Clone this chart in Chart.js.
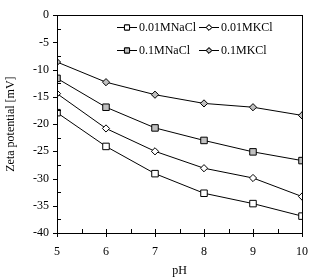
<!DOCTYPE html>
<html>
<head>
<meta charset="utf-8">
<script src="https://cdn.jsdelivr.net/npm/chart.js@4"></script>
<style>
  html, body { margin: 0; padding: 0; background: #fff; }
  #wrap { width: 320px; height: 278px; }
</style>
</head>
<body>
<div id="wrap"><canvas id="zetaChart" width="320" height="278"></canvas></div>
<script>
// pH values on the x axis
const phValues = [5, 6, 7, 8, 9, 10];

// Zeta potential [mV] per electrolyte
const nacl001 = [-17.9, -24.1, -29.1, -32.7, -34.6, -36.9];
const kcl001 = [-14.4, -20.8, -25.0, -28.1, -29.9, -33.3];
const nacl01 = [-11.6, -16.9, -20.7, -23.0, -25.1, -26.7];
const kcl01 = [-8.6, -12.3, -14.6, -16.2, -16.9, -18.4];

const seriesLabels = ["0.01MNaCl", "0.01MKCl", "0.1MNaCl", "0.1MKCl"];

const FONT = "'Liberation Serif', 'Times New Roman', serif";
const GRAY = "#c0c0c0";

const toPoints = (ys) => ys.map((y, i) => ({ x: phValues[i], y: y }));

const makeSet = (label, ys, shape, fill) => ({
    label: label,
    data: toPoints(ys),
    borderColor: "#000",
    borderWidth: 1,
    pointStyle: shape,
    pointRadius: shape === "rect" ? 4.6 : 3.6,
    pointBackgroundColor: fill,
    pointBorderColor: "#000",
    pointBorderWidth: 1,
    showLine: true,
    fill: false,
    tension: 0
});

// box border plus inside/outside tick marks like the original figure
const axisTicks = {
    id: "axisTicks",
    afterDraw(chart) {
        const c = chart.ctx, a = chart.chartArea;
        const xs = chart.scales.x, ys = chart.scales.y;
        c.save();
        c.strokeStyle = "#000";
        c.lineWidth = 1;
        c.strokeRect(Math.round(a.left) + 0.5, Math.round(a.top) + 0.5,
            Math.round(a.right - a.left), Math.round(a.bottom - a.top));
        c.beginPath();
        for (let v = 0; v >= -40; v -= 2.5) {
            const y = Math.round(ys.getPixelForValue(v)) + 0.5;
            const major = v % 5 === 0;
            c.moveTo(a.left + (major ? -4 : 0), y);
            c.lineTo(a.left + (major ? 0 : 4), y);
        }
        for (let v = 5; v <= 10; v += 0.5) {
            const x = Math.round(xs.getPixelForValue(v)) + 0.5;
            const major = v % 1 === 0;
            c.moveTo(x, a.bottom - 4);
            c.lineTo(x, a.bottom + (major ? 4 : 0));
        }
        c.stroke();
        c.restore();
    }
};

// two-column legend drawn inside the plot: line with marker, then label
const boxLegend = {
    id: "boxLegend",
    afterDraw(chart) {
        const c = chart.ctx;
        const cols = [117, 199];
        const rows = [26.5, 49.5];
        c.save();
        c.font = "12px " + FONT;
        c.textBaseline = "middle";
        c.fillStyle = "#000";
        chart.data.datasets.forEach((ds, i) => {
            const x0 = cols[i % 2], y = rows[Math.floor(i / 2)];
            c.strokeStyle = "#000";
            c.lineWidth = 1;
            c.beginPath();
            c.moveTo(x0, Math.round(y) + 0.5);
            c.lineTo(x0 + 20, Math.round(y) + 0.5);
            c.stroke();
            Chart.helpers.drawPoint(c, {
                pointStyle: ds.pointStyle,
                radius: ds.pointStyle === "rect" ? 3.6 : 2.8,
                rotation: 0,
                borderWidth: 1
            }, x0 + 10, Math.round(y) + 0.5);
            c.fillStyle = ds.pointBackgroundColor;
            c.strokeStyle = "#000";
            c.fill();
            c.stroke();
            c.fillStyle = "#000";
            c.fillText(ds.label, x0 + 22, y + 1);
        });
        c.restore();
    }
};

new Chart(document.getElementById("zetaChart"), {
    type: "line",
    data: {
        datasets: [
            makeSet(seriesLabels[0], nacl001, "rect", "#fff"),
            makeSet(seriesLabels[1], kcl001, "rectRot", "#fff"),
            makeSet(seriesLabels[2], nacl01, "rect", GRAY),
            makeSet(seriesLabels[3], kcl01, "rectRot", GRAY)
        ]
    },
    options: {
        responsive: false,
        animation: false,
        layout: { padding: { top: 7, right: 14, left: 0, bottom: 0 } },
        plugins: {
            legend: { display: false },
            tooltip: { enabled: false }
        },
        scales: {
            x: {
                type: "linear",
                min: 5,
                max: 10,
                ticks: { stepSize: 1, padding: 12, color: "#000", font: { family: FONT, size: 12 } },
                grid: { display: false, drawTicks: false },
                border: { display: false },
                title: { display: true, text: "pH", color: "#000", padding: { top: 0, bottom: 0 },
                    font: { family: FONT, size: 12 } },
                afterFit: (s) => { s.height = 45; }
            },
            y: {
                min: -40,
                max: 0,
                ticks: { stepSize: 5, padding: 8, color: "#000", font: { family: FONT, size: 12 } },
                grid: { display: false, drawTicks: false },
                border: { display: false },
                title: { display: true, text: "Zeta potential [mV]", color: "#000", padding: { top: 4, bottom: 0 },
                    font: { family: FONT, size: 12 } },
                afterFit: (s) => { s.width = 57; }
            }
        }
    },
    plugins: [axisTicks, boxLegend]
});
</script>
</body>
</html>
